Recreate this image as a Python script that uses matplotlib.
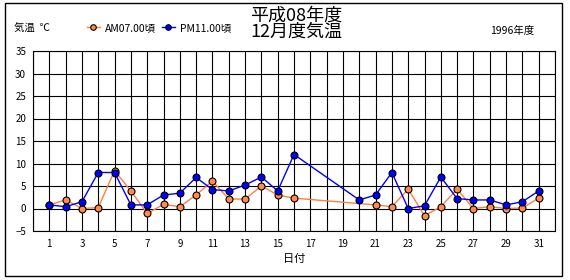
import matplotlib.pyplot as plt
import numpy as np
from matplotlib.patches import Rectangle

plt.rcParams['font.family'] = ['Noto Sans CJK JP', 'DejaVu Sans']

# data (days 17-19 missing, orange day 20 missing)
days = np.arange(1, 32)
am07 = [0.8, 1.9, 0.0, 0.2, 8.4, 3.9, -1.1, 0.9, 0.4, 3.0,
        6.1, 2.1, 2.1, 5.0, 3.0, 2.3, None, None, None, None,
        0.8, 0.4, 4.3, -1.6, 0.4, 4.3, 0.0, 0.4, 0.0, 0.1, 2.3]
pm11 = [0.8, 0.4, 1.5, 8.0, 8.0, 0.8, 0.8, 3.0, 3.4, 6.9,
        4.2, 3.9, 5.2, 7.0, 3.9, 12.0, None, None, None, 1.9,
        3.0, 8.0, 0.0, 0.6, 7.0, 2.2, 1.9, 1.9, 0.8, 1.5, 3.9]
xticks = list(range(1, 32, 2))
yticks = list(range(-5, 36, 5))

fig = plt.figure(figsize=(5.7, 2.8), dpi=100)
ax = fig.add_axes([33 / 570, 49 / 280, 522 / 570, 180 / 280])

def valid(vals):
    d = [x for x, v in zip(days, vals) if v is not None]
    v = [v for v in vals if v is not None]
    return d, v

d, v = valid(am07)
ax.plot(d, v, color='#FF7F3F', lw=1, marker='o', ms=5,
        markerfacecolor='#FF8C4C', markeredgecolor='black', mew=0.8,
        label='AM07.00頃', zorder=3)
d, v = valid(pm11)
ax.plot(d, v, color='#0000FF', lw=1, marker='o', ms=5,
        markerfacecolor='#0000FF', markeredgecolor='black', mew=0.8,
        label='PM11.00頃', zorder=4)

ax.set_xlim(0, 32)
ax.set_ylim(-5, 35)
ax.set_xticks(xticks)
ax.set_xticks(range(0, 33), minor=True)
ax.set_yticks(yticks)
ax.set_yticklabels([str(t).replace('-', '\u2212') for t in yticks])
ax.grid(True, which='both', color='black', lw=0.8)
ax.tick_params(which='both', length=0, labelsize=7, pad=6)
ax.tick_params(axis='y', pad=5)
for s in ax.spines.values():
    s.set_color('black')
    s.set_linewidth(0.8)
ax.set_xlabel('日付', fontsize=8, labelpad=3)

fig.text(14 / 570, 1 - 29 / 280, '気温  ℃', fontsize=7.5, va='center')
fig.text(296 / 570, 1 - 24 / 280, '平成08年度\n12月度気温', fontsize=13,
         ha='center', va='center', linespacing=0.85)
fig.text(490 / 570, 1 - 31 / 280, '1996年度', fontsize=7.5, va='center')
fig.legend(loc='center left', bbox_to_anchor=(82 / 570, 1 - 28 / 280),
           ncol=2, frameon=False, fontsize=7.5, handlelength=1.2,
           handletextpad=0.5, columnspacing=0.6, borderpad=0,
           markerscale=0.8)

fig.patches.append(Rectangle((5 / 570, 4 / 280), 557 / 570, 273 / 280,
                             transform=fig.transFigure, fill=False,
                             edgecolor='black', lw=1))

fig.savefig('out.png', dpi=100)
